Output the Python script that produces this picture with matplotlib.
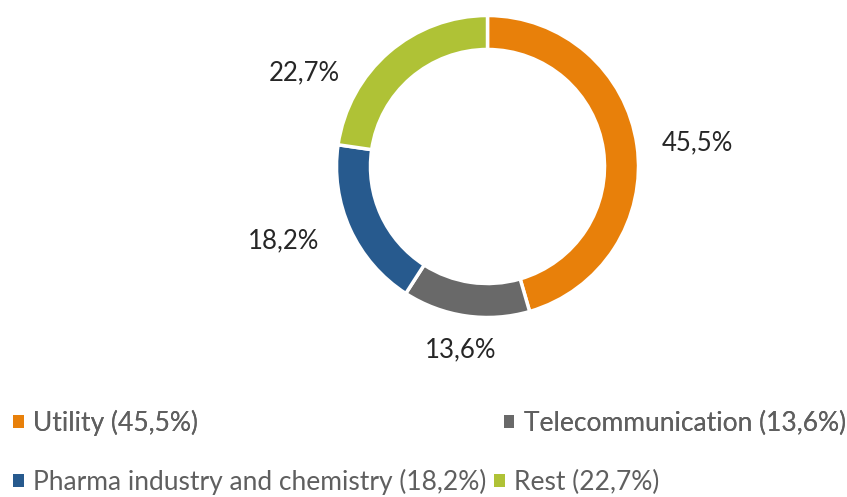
import matplotlib
matplotlib.use("Agg")
import matplotlib.pyplot as plt
from matplotlib.patches import Patch
import numpy as np

# ------------------------------------------------------------
# Data
# ------------------------------------------------------------
categories = ["Utility", "Telecommunication", "Pharma industry and chemistry", "Rest"]
shares = [45.5, 13.6, 18.2, 22.7]
colors = ["#E8800A", "#696969", "#275A8E", "#AFC236"]

# label placement (radius factor, angle offset in degrees from wedge middle)
label_r = [1.40, 1.23, 1.44, 1.36]
label_dang = [-1.7, -0.2, -4.5, 22.0]

plt.rcParams["font.family"] = ["Lato", "DejaVu Sans"]

W, H = 847, 497
fig = plt.figure(figsize=(W / 100, H / 100), dpi=100, facecolor="white")

# donut axes, placed in pixels
cx, cy, R = 487.5, 166.5, 151
ax = fig.add_axes([(cx - R) / W, (H - cy - R) / H, 2 * R / W, 2 * R / H])
ax.axis("off")

wedges, _ = ax.pie(shares, colors=colors, startangle=90, counterclock=False,
                   radius=1.0,
                   wedgeprops=dict(width=0.225, edgecolor="white", linewidth=2.5))
ax.set_xlim(-1, 1)
ax.set_ylim(-1, 1)
ax.set_aspect("equal")

for w, v, r, da in zip(wedges, shares, label_r, label_dang):
    mid = np.deg2rad((w.theta1 + w.theta2) / 2 + da)
    ax.text(r * np.cos(mid), r * np.sin(mid), f"{v:.1f}%".replace(".", ","),
            ha="center", va="center", fontsize=18.5, color="#262626",
            clip_on=False)

handles = [Patch(facecolor=c, edgecolor="none") for c in colors]
labels = [f"{c} ({v:.1f}%)".replace(".", ",") for c, v in zip(categories, shares)]

common = dict(frameon=False, fontsize=19, labelcolor="#5f5f5f",
              handlelength=0.4, handleheight=0.4, handletextpad=0.35,
              borderpad=0, borderaxespad=0, ncol=2, loc="center left")

leg1 = fig.legend([handles[0], handles[1]], [labels[0], labels[1]],
                  bbox_to_anchor=(13 / W, 1 - 423 / H), columnspacing=11.6, **common)
fig.add_artist(leg1)
leg2 = fig.legend([handles[2], handles[3]], [labels[2], labels[3]],
                  bbox_to_anchor=(13 / W, 1 - 482 / H), columnspacing=0.3, **common)

fig.savefig("out.png", dpi=100, facecolor="white")
